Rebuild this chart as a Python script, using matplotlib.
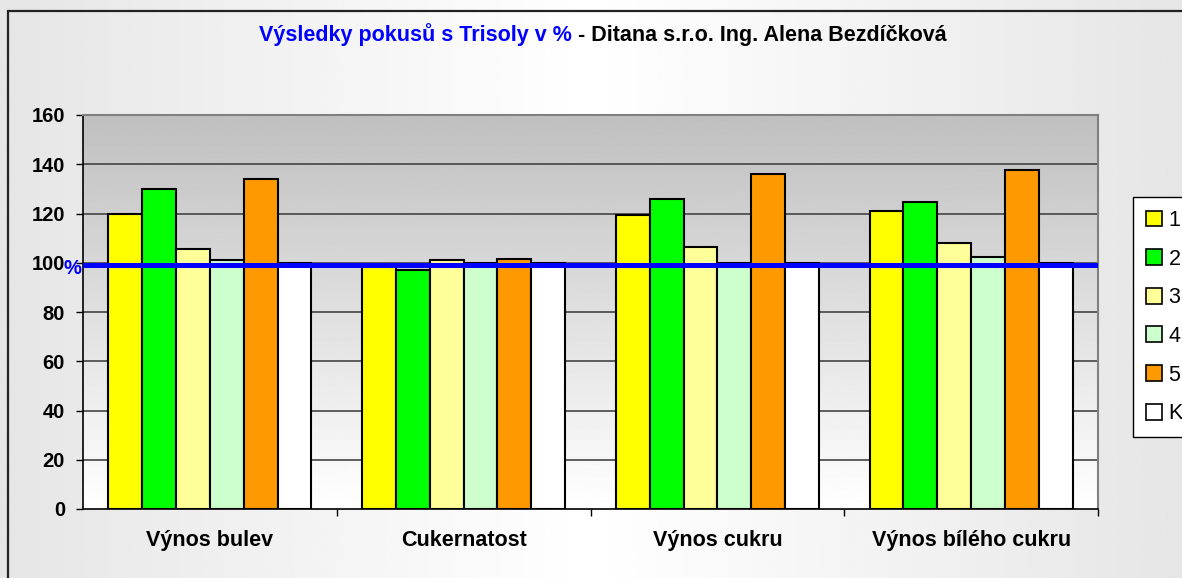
import numpy as np
import matplotlib
matplotlib.use("Agg")
import matplotlib.pyplot as plt
from matplotlib.patches import Rectangle, Patch

plt.rcParams['font.family'] = ['Liberation Sans', 'DejaVu Sans']

categories = ["Výnos bulev", "Cukernatost", "Výnos cukru", "Výnos bílého cukru"]
series_names = ["1", "2", "3", "4", "5", "K"]
s1 = [120, 99.5, 119.5, 121]
s2 = [130, 97, 126, 124.5]
s3 = [105.5, 101, 106.5, 108]
s4 = [101, 99.8, 100, 102.5]
s5 = [134, 101.5, 136, 137.5]
sK = [100, 100, 100, 100]
colors = ["#ffff00", "#00ff00", "#ffff99", "#ccffcc", "#ff9900", "#ffffff"]
ref_level = 99.1
yticks = [0, 20, 40, 60, 80, 100, 120, 140, 160]

W, H = 1182, 578
fig = plt.figure(figsize=(W / 100, H / 100), dpi=100)

# figure background: horizontal gradient grey -> white -> grey
bg = fig.add_axes([0, 0, 1, 1], zorder=-10)
xs = np.linspace(0, 1, 400)
shade = 1 - 0.1 * np.abs(xs - 0.5) / 0.5
bg.imshow(np.tile(shade, (2, 1)), cmap="gray", vmin=0, vmax=1,
          aspect="auto", extent=[0, 1, 0, 1])
bg.set_axis_off()
fig.patches.append(Rectangle((8 / W, -0.1), 1.2, 1 - 11 / H + 0.1,
                             transform=fig.transFigure, fill=False,
                             edgecolor="#222222", linewidth=1.6))

ax = fig.add_axes([83 / W, 69 / H, (1098 - 83) / W, (509 - 115) / H])

# plot area vertical gradient
ys = np.linspace(1, 0, 300)
grad = 0.75 + 0.25 * (1 - ys)
ax.imshow(grad[:, None], cmap="gray", vmin=0, vmax=1, aspect="auto",
          extent=[-0.5, len(categories) - 0.5, 0, 160], zorder=0)

data = [s1, s2, s3, s4, s5, sK]
x = np.arange(len(categories))
bw = 1 / 7.5
for i, (vals, c, name) in enumerate(zip(data, colors, series_names)):
    ax.bar(x + (i - 2.5) * bw, vals, width=bw, color=c, edgecolor="black",
           linewidth=1.5, label=name, zorder=3)

for t in yticks[1:-1]:
    ax.axhline(t, color="#444444", linewidth=1.2, zorder=1)
ax.axhline(ref_level, color="#0000ff", linewidth=3.6, zorder=5)

ax.set_xlim(-0.5, len(categories) - 0.5)
ax.set_ylim(0, 160)
ax.set_yticks(yticks)
ax.set_yticklabels([str(t) for t in yticks], fontsize=14.5, fontweight="bold")
ax.set_xticks(x + 0.5)
ax.set_xticks(x, minor=True)
ax.set_xticklabels([])
ax.set_xticklabels(categories, minor=True, fontsize=15.5, fontweight="bold")
ax.tick_params(axis="x", which="major", length=5, direction="out", width=1)
ax.tick_params(axis="x", which="minor", length=0, pad=15)
ax.tick_params(axis="y", length=5, width=1, pad=8)
for side in ["top", "right"]:
    ax.spines[side].set_color("#808080")
    ax.spines[side].set_linewidth(1.5)
for side in ["left", "bottom"]:
    ax.spines[side].set_color("black")
    ax.spines[side].set_linewidth(1.2)

ax.text(-0.002, ref_level - 1.5, "%", transform=ax.get_yaxis_transform(),
        color="#0000ff", fontsize=14.5, fontweight="bold",
        ha="right", va="center", zorder=6)

fig.text(572 / W, 1 - 35 / H, "Výsledky pokusů s Trisoly v %", color="#0000ff",
         fontsize=15.5, fontweight="bold", ha="right", va="center")
fig.text(578 / W, 1 - 35 / H, "- Ditana s.r.o. Ing. Alena Bezdíčková",
         color="black", fontsize=15.5, fontweight="bold", ha="left", va="center")

handles = [Patch(facecolor=c, edgecolor="black", linewidth=1.2) for c in colors]
fig.legend(handles, series_names, loc="upper left",
           bbox_to_anchor=(1133 / W, 1 - 197 / H), borderaxespad=0,
           fontsize=15.5, handlelength=0.75, handleheight=0.75,
           handletextpad=0.3, labelspacing=0.82, borderpad=0.6,
           fancybox=False, framealpha=1, edgecolor="black",
           facecolor="white")

fig.savefig("out.png", dpi=100)
